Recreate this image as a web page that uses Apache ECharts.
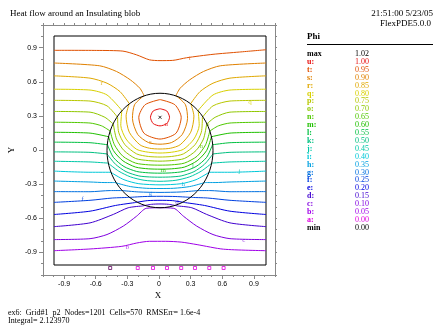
<!DOCTYPE html>
<html>
<head>
<meta charset="utf-8">
<script src="https://cdn.jsdelivr.net/npm/echarts@6/dist/echarts.min.js"></script>
<style>
html,body{margin:0;padding:0;background:#fff;}
#chart{width:448px;height:336px;}
</style>
</head>
<body>
<div id="chart"></div>
<script>
// Contour levels of Phi
const levelKeys   = ['a','b','c','d','e','f','g','h','i','j','k','l','m','n','o','p','q','r','s','t','u'];
const levelValues = ['0.00','0.05','0.10','0.15','0.20','0.25','0.30','0.35','0.40','0.45','0.50','0.55','0.60','0.65','0.70','0.75','0.80','0.85','0.90','0.95','1.00'];
const levelColors = ['#e000e0','#a000e8','#8000e0','#4000d0','#0000e0','#0040e0','#0070e0','#00a0e0','#00c8d8','#00c8a8','#00c080','#00c040','#20c000','#50c800','#90c800','#b8c800','#d8d000','#e0a800','#e08000','#e05000','#e81010'];
const phiMax = '1.02';
const phiMin = '0.00';

// Axis ticks
const tickValues = [-0.9,-0.6,-0.3,0,0.3,0.6,0.9];
const tickLabels = ['-0.9','-0.6','-0.3','0','0.3','0.6','0.9'];
const minorTicks = [-1.1,-1.0,-0.9,-0.8,-0.7,-0.6,-0.5,-0.4,-0.3,-0.2,-0.1,0,0.1,0.2,0.3,0.4,0.5,0.6,0.7,0.8,0.9,1.0,1.1];

// Blob outline (radius 0.5 about the origin)
const blobRadius = 0.5;

// Contour pieces per level: [x, y] points
const contourU = [
  [[0,0.365],[0.064,0.345],[0.09,0.29],[0.064,0.235],[0,0.215],[-0.064,0.235],[-0.09,0.29],[-0.064,0.345],[0,0.365]]
];
const contourT = [
  [[-1,0.875],[-0.6,0.874],[-0.35,0.868],[-0.22,0.835],[-0.1,0.792],[0,0.785],[0.12,0.787],[0.25,0.81],[0.5,0.84],[0.75,0.86],[1,0.88]],
  [[0,0.445],[0.14,0.4],[0.2,0.29],[0.15,0.15],[0,0.1],[-0.15,0.15],[-0.2,0.29],[-0.14,0.4],[0,0.445]]
];
const contourS = [
  [[-1,0.764],[-0.57,0.74],[-0.41,0.69],[-0.28,0.617],[-0.19,0.544],[-0.15,0.48]],
  [[-0.15,0.48],[-0.24,0.4],[-0.26,0.28],[-0.21,0.14],[-0.11,0.07],[0,0.055],[0.11,0.07],[0.21,0.14],[0.26,0.28],[0.24,0.4],[0.15,0.48]],
  [[0.15,0.48],[0.19,0.544],[0.28,0.617],[0.41,0.69],[0.57,0.74],[1,0.764]]
];
const contourR = [
  [[-1,0.652],[-0.66,0.632],[-0.5,0.588],[-0.377,0.514],[-0.29,0.41]],
  [[-0.29,0.41],[-0.32,0.3],[-0.29,0.16],[-0.19,0.05],[-0.1,0.02],[0,0.013],[0.1,0.02],[0.19,0.05],[0.29,0.16],[0.32,0.3],[0.29,0.41]],
  [[0.29,0.41],[0.377,0.514],[0.5,0.588],[0.66,0.632],[1,0.652]]
];
const contourQ = [
  [[-1,0.535],[-0.66,0.528],[-0.5,0.485],[-0.36,0.35]],
  [[-0.36,0.35],[-0.37,0.22],[-0.32,0.1],[-0.22,0.01],[-0.11,-0.015],[0,-0.022],[0.11,-0.015],[0.22,0.01],[0.32,0.1],[0.37,0.22],[0.36,0.35]],
  [[0.36,0.35],[0.5,0.485],[0.66,0.528],[1,0.535]]
];
const contourP = [
  [[-1,0.438],[-0.66,0.432],[-0.5,0.39],[-0.4,0.29]],
  [[-0.4,0.29],[-0.39,0.16],[-0.33,0.05],[-0.22,-0.03],[-0.11,-0.052],[0,-0.057],[0.11,-0.052],[0.22,-0.03],[0.33,0.05],[0.39,0.16],[0.4,0.29]],
  [[0.4,0.29],[0.5,0.39],[0.66,0.432],[1,0.438]]
];
const contourO = [
  [[-1,0.341],[-0.66,0.335],[-0.52,0.29],[-0.44,0.23]],
  [[-0.44,0.23],[-0.41,0.1],[-0.34,0.0],[-0.23,-0.07],[-0.11,-0.088],[0,-0.093],[0.11,-0.088],[0.23,-0.07],[0.34,0.0],[0.41,0.1],[0.44,0.23]],
  [[0.44,0.23],[0.52,0.29],[0.66,0.335],[1,0.341]]
];
const contourN = [
  [[-1,0.247],[-0.66,0.24],[-0.55,0.215],[-0.47,0.17]],
  [[-0.47,0.17],[-0.43,0.05],[-0.35,-0.05],[-0.23,-0.11],[-0.11,-0.125],[0,-0.128],[0.11,-0.125],[0.23,-0.11],[0.35,-0.05],[0.43,0.05],[0.47,0.17]],
  [[0.47,0.17],[0.55,0.215],[0.66,0.24],[1,0.247]]
];
const contourM = [
  [[-1,0.159],[-0.66,0.152],[-0.485,0.12]],
  [[-0.485,0.12],[-0.44,0.0],[-0.35,-0.09],[-0.23,-0.145],[-0.11,-0.16],[0,-0.163],[0.11,-0.16],[0.23,-0.145],[0.35,-0.09],[0.44,0.0],[0.485,0.12]],
  [[0.485,0.12],[0.66,0.152],[1,0.159]]
];
const contourL = [
  [[-1,0.073],[-0.66,0.068],[-0.495,0.05]],
  [[-0.495,0.05],[-0.44,-0.06],[-0.34,-0.14],[-0.22,-0.183],[-0.11,-0.195],[0,-0.198],[0.11,-0.195],[0.22,-0.183],[0.34,-0.14],[0.44,-0.06],[0.495,0.05]],
  [[0.495,0.05],[0.66,0.068],[1,0.073]]
];
const contourK = [
  [[-1,-0.012],[-0.66,-0.016],[-0.5,-0.03]],
  [[-0.5,-0.03],[-0.42,-0.12],[-0.32,-0.185],[-0.2,-0.222],[-0.1,-0.231],[0,-0.233],[0.1,-0.231],[0.2,-0.222],[0.32,-0.185],[0.42,-0.12],[0.5,-0.03]],
  [[0.5,-0.03],[0.66,-0.016],[1,-0.012]]
];
const contourJ = [
  [[-1,-0.094],[-0.66,-0.1],[-0.49,-0.11]],
  [[-0.49,-0.11],[-0.39,-0.18],[-0.28,-0.23],[-0.15,-0.26],[0,-0.269],[0.15,-0.26],[0.28,-0.23],[0.39,-0.18],[0.49,-0.11]],
  [[0.49,-0.11],[0.66,-0.1],[1,-0.094]]
];
const contourI = [
  [[-1,-0.18],[-0.66,-0.19],[-0.465,-0.19]],
  [[-0.465,-0.19],[-0.34,-0.255],[-0.2,-0.29],[0,-0.3],[0.2,-0.29],[0.34,-0.255],[0.465,-0.19]],
  [[0.465,-0.19],[0.66,-0.19],[1,-0.18]]
];
const contourH = [
  [[-1,-0.267],[-0.66,-0.275],[-0.52,-0.28],[-0.425,-0.28]],
  [[-0.425,-0.28],[-0.28,-0.315],[-0.13,-0.33],[0,-0.332],[0.13,-0.33],[0.28,-0.315],[0.425,-0.28]],
  [[0.425,-0.28],[0.52,-0.28],[0.66,-0.275],[1,-0.267]]
];
const contourG = [
  [[-1,-0.359],[-0.66,-0.36],[-0.47,-0.35],[-0.36,-0.35]],
  [[-0.36,-0.35],[-0.2,-0.362],[0,-0.366],[0.2,-0.362],[0.36,-0.35]],
  [[0.36,-0.35],[0.47,-0.35],[0.66,-0.36],[1,-0.359]]
];
const contourF = [
  [[-1,-0.453],[-0.66,-0.435],[-0.45,-0.415],[-0.3,-0.41]],
  [[-0.3,-0.41],[-0.15,-0.402],[0,-0.4],[0.15,-0.402],[0.3,-0.41]],
  [[0.3,-0.41],[0.45,-0.415],[0.66,-0.435],[1,-0.453]]
];
const contourE = [
  [[-1,-0.559],[-0.66,-0.53],[-0.42,-0.48],[-0.236,-0.455]],
  [[-0.236,-0.455],[-0.12,-0.438],[0,-0.435],[0.12,-0.438],[0.236,-0.455]],
  [[0.236,-0.455],[0.42,-0.48],[0.66,-0.53],[1,-0.559]]
];
const contourD = [
  [[-1,-0.665],[-0.66,-0.632],[-0.44,-0.558],[-0.3,-0.5],[-0.17,-0.485]],
  [[-0.17,-0.485],[-0.08,-0.47],[0,-0.467],[0.08,-0.47],[0.17,-0.485]],
  [[0.17,-0.485],[0.3,-0.5],[0.44,-0.558],[0.66,-0.632],[1,-0.665]]
];
const contourC = [
  [[-1,-0.778],[-0.66,-0.77],[-0.5,-0.734],[-0.346,-0.66],[-0.22,-0.573],[-0.13,-0.505],[0,-0.5],[0.13,-0.505],[0.22,-0.573],[0.346,-0.66],[0.5,-0.734],[0.66,-0.77],[1,-0.778]]
];
const contourB = [
  [[-1,-0.875],[-0.66,-0.86],[-0.36,-0.837],[-0.22,-0.808],[-0.1,-0.793],[0.05,-0.793],[0.2,-0.8],[0.35,-0.822],[0.6,-0.862],[1,-0.875]]
];

// Contour tags [x, y, level letter]
const contourTags = [
  [0.28,0.81,'t'],[-0.55,0.59,'r'],[0.85,0.42,'q'],[0.45,0.23,'o'],[0.06,0.23,'u'],
  [-0.09,0.07,'s'],[0.39,0.035,'n'],[0.03,-0.17,'m'],[0.31,-0.14,'l'],[0.75,-0.18,'j'],
  [0.22,-0.29,'h'],[-0.09,-0.37,'g'],[0.16,-0.455,'d'],[-0.73,-0.425,'f'],[0.79,-0.78,'c'],[-0.31,-0.845,'b']
];
// Level-a tags along the lower boundary
const bottomTagX = [-0.47,-0.21,-0.066,0.066,0.2,0.33,0.465,0.6];
const bottomTagY = -1.026;
// Location of the maximum
const maxPoint = [0,0.29];

const contourByLevel = {
  b: contourB, c: contourC, d: contourD, e: contourE, f: contourF, g: contourG, h: contourH,
  i: contourI, j: contourJ, k: contourK, l: contourL, m: contourM, n: contourN, o: contourO,
  p: contourP, q: contourQ, r: contourR, s: contourS, t: contourT, u: contourU
};

function colorOf(key) { return levelColors[levelKeys.indexOf(key)]; }

const series = [];
Object.keys(contourByLevel).forEach(function (key) {
  contourByLevel[key].forEach(function (piece) {
    series.push({
      type: 'line', xAxisIndex: 0, yAxisIndex: 0, data: piece,
      showSymbol: false, smooth: 0.25, silent: true,
      lineStyle: { color: colorOf(key), width: 1 }
    });
  });
});

// Blob boundary as a closed curve
const blobPts = [];
for (let k = 0; k <= 72; k++) {
  const a = k / 72 * Math.PI * 2;
  blobPts.push([blobRadius * Math.cos(a), blobRadius * Math.sin(a)]);
}
series.push({
  type: 'line', xAxisIndex: 0, yAxisIndex: 0, data: blobPts, showSymbol: false,
  silent: true, lineStyle: { color: '#000', width: 1 }, z: 3
});

series.push({
  type: 'scatter', xAxisIndex: 0, yAxisIndex: 0, silent: true, clip: false,
  data: contourTags.map(function (t) { return { value: [t[0], t[1]], label: { formatter: t[2], color: colorOf(t[2]) } }; }),
  symbolSize: 0,
  label: { show: true, position: 'inside', fontSize: 7, fontFamily: 'Liberation Serif' }
});
series.push({
  type: 'scatter', xAxisIndex: 0, yAxisIndex: 0, silent: true, clip: false,
  data: bottomTagX.map(function (x, i) { return { value: [x, bottomTagY], itemStyle: { borderColor: i === 0 ? '#600060' : levelColors[0] } }; }),
  symbol: 'rect', symbolSize: 3,
  itemStyle: { color: 'rgba(0,0,0,0)', borderWidth: 1 }
});
series.push({
  type: 'scatter', xAxisIndex: 0, yAxisIndex: 0, silent: true, data: [maxPoint],
  symbol: 'path://M0,0L10,10M10,0L0,10', symbolSize: 3,
  itemStyle: { color: 'rgba(0,0,0,0)', borderColor: '#000', borderWidth: 1 }
});

const tickFont = { fontSize: 7, fontFamily: 'Liberation Sans', color: '#000' };
function labelOf(v) {
  const i = tickValues.findIndex(function (t) { return Math.abs(t - v) < 1e-6; });
  return i >= 0 ? tickLabels[i] : '';
}
function frameAxis(pos, withLabels, major) {
  return {
    gridIndex: 1, type: 'value', position: pos, min: -1.1, max: 1.1,
    axisLine: { show: !major, onZero: false, lineStyle: { color: '#888', width: 1 } },
    axisTick: { show: true, customValues: major ? tickValues : minorTicks, length: major ? 4 : 2, lineStyle: { color: '#888' } },
    axisLabel: withLabels ? Object.assign({ show: true, customValues: tickValues, formatter: labelOf, margin: 6 }, tickFont) : { show: false },
    splitLine: { show: false }
  };
}

// Legend rows
const legendRows = [{ k: 'max', v: phiMax, c: '#000' }];
for (let i = levelKeys.length - 1; i >= 0; i--) legendRows.push({ k: levelKeys[i] + ':', v: levelValues[i], c: levelColors[i] });
legendRows.push({ k: 'min', v: phiMin, c: '#000' });

const graphics = [
  { type: 'text', style: { text: 'Heat flow around an Insulating blob', x: 10, y: 14, font: '9px "Liberation Serif"', fill: '#000', verticalAlign: 'middle' } },
  { type: 'text', style: { text: '21:51:00 5/23/05', x: 433, y: 14, font: '9px "Liberation Serif"', fill: '#000', align: 'right', verticalAlign: 'middle' } },
  { type: 'text', style: { text: 'FlexPDE5.0.0', x: 431, y: 24, font: '9px "Liberation Serif"', fill: '#000', align: 'right', verticalAlign: 'middle' } },
  { type: 'text', style: { text: 'Phi', x: 307, y: 37, font: 'bold 9px "Liberation Serif"', fill: '#000', verticalAlign: 'middle' } },
  { type: 'line', shape: { x1: 307, y1: 44.5, x2: 433, y2: 44.5 }, style: { stroke: '#000', lineWidth: 1 } },
  { type: 'text', style: { text: 'X', x: 158, y: 296, font: '9px "Liberation Serif"', fill: '#000', align: 'center', verticalAlign: 'middle' } },
  { type: 'text', rotation: Math.PI / 2, x: 12, y: 150, style: { text: 'Y', x: 0, y: 0, font: '9px "Liberation Serif"', fill: '#000', align: 'center', verticalAlign: 'middle' } },
  { type: 'text', style: { text: 'ex6:  Grid#1  p2  Nodes=1201  Cells=570  RMSErr= 1.6e-4', x: 8, y: 313, font: '8px "Liberation Serif"', fill: '#000', verticalAlign: 'middle' } },
  { type: 'text', style: { text: 'Integral= 2.123970', x: 8, y: 321, font: '8px "Liberation Serif"', fill: '#000', verticalAlign: 'middle' } }
];
legendRows.forEach(function (r, i) {
  const y = 54 + i * 7.9;
  graphics.push({ type: 'text', style: { text: r.k, x: 307, y: y, font: 'bold 8px "Liberation Serif"', fill: r.c, verticalAlign: 'middle' } });
  graphics.push({ type: 'text', style: { text: r.v, x: 355, y: y, font: '8px "Liberation Serif"', fill: r.c, verticalAlign: 'middle' } });
});

const chart = echarts.init(document.getElementById('chart'), null, { renderer: 'canvas' });
chart.setOption({
  animation: false,
  backgroundColor: '#fff',
  grid: [
    { left: 54, top: 36, width: 212, height: 229, show: true, borderColor: '#000', borderWidth: 1, backgroundColor: 'transparent' },
    { left: 43, top: 25, width: 232, height: 250, show: false }
  ],
  xAxis: [
    { gridIndex: 0, type: 'value', min: -1, max: 1, show: false },
    frameAxis('bottom', false, false),
    frameAxis('bottom', true, true),
    frameAxis('top', false, false)
  ],
  yAxis: [
    { gridIndex: 0, type: 'value', min: -1, max: 1, show: false },
    frameAxis('left', false, false),
    frameAxis('left', true, true),
    frameAxis('right', false, false)
  ],
  graphic: graphics,
  series: series
});
</script>
</body>
</html>
